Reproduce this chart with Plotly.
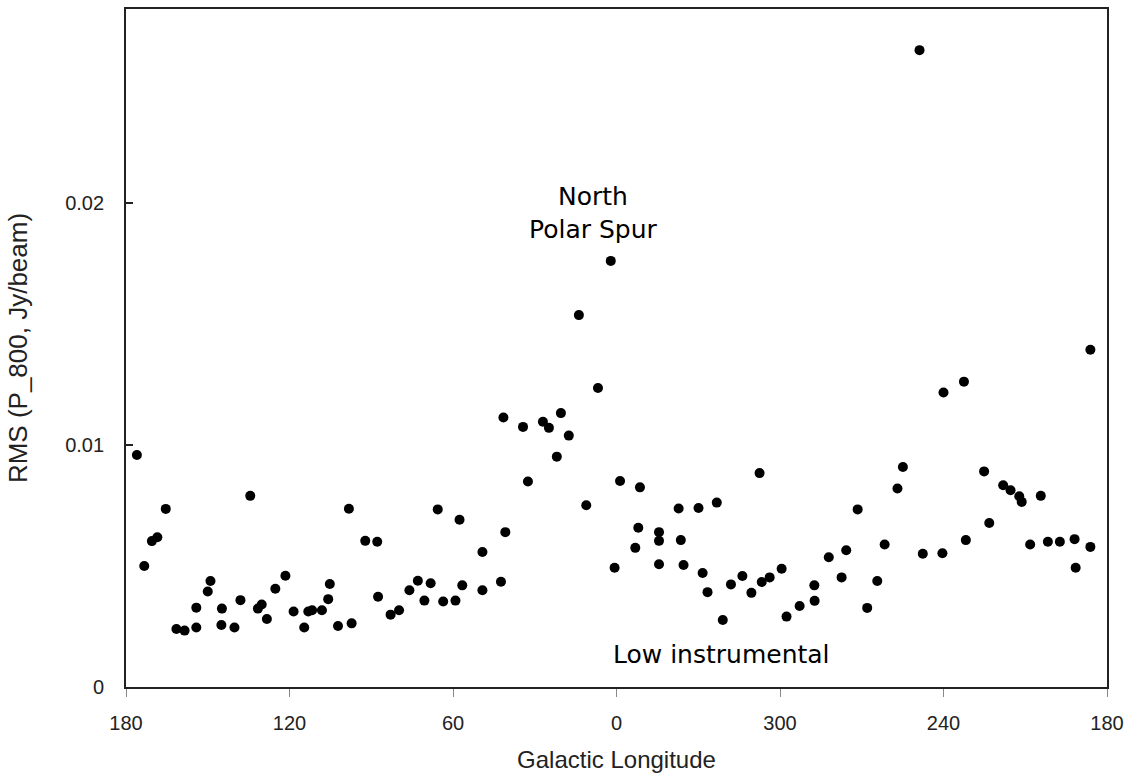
import plotly.graph_objects as go

# Galactic longitude (deg) and RMS (Jy/beam)
longitude = [176.0, 173.3, 170.5, 168.5, 165.4, 161.5, 158.5, 154.2, 154.2, 150.0,
             149.0, 144.8, 145.0, 140.2, 138.0, 134.4, 131.6, 130.2, 128.3, 125.2,
             121.5, 118.5, 114.6, 113.1, 111.7, 108.1, 105.8, 105.2, 102.2, 98.2,
             97.2, 92.2, 87.8, 87.5, 82.9, 79.8, 76.0, 72.9, 70.5, 68.2,
             65.6, 63.6, 59.1, 57.6, 56.6, 49.2, 49.2, 42.4, 41.5, 40.8,
             34.3, 32.5, 27.0, 24.8, 21.9, 20.4, 17.5, 13.8, 11.1, 6.8,
             2.1, 0.7, 358.7, 353.1, 352.0, 351.4, 344.4, 344.4, 344.4, 337.2,
             336.4, 335.4, 329.9, 328.4, 326.6, 323.2, 321.0, 318.0, 313.8, 310.5,
             307.5, 306.7, 303.8, 299.4, 297.6, 292.8, 287.4, 287.3, 282.1, 277.4,
             275.7, 271.5, 268.0, 264.3, 261.6, 256.9, 254.9, 248.8, 247.6, 240.4,
             240.0, 232.5, 231.8, 225.1, 223.2, 218.1, 215.4, 212.2, 211.3, 208.2,
             204.3, 201.7, 197.3, 191.9, 191.5, 186.1, 186.1]

rms = [0.00959, 0.00500, 0.00603, 0.00619, 0.00736, 0.00240, 0.00233, 0.00328, 0.00246, 0.00395,
       0.00438, 0.00324, 0.00256, 0.00246, 0.00359, 0.00790, 0.00324, 0.00341, 0.00281, 0.00406,
       0.00460, 0.00312, 0.00246, 0.00312, 0.00317, 0.00317, 0.00363, 0.00426, 0.00252, 0.00737,
       0.00263, 0.00604, 0.00600, 0.00373, 0.00299, 0.00317, 0.00400, 0.00439, 0.00357, 0.00429,
       0.00734, 0.00353, 0.00357, 0.00691, 0.00420, 0.00558, 0.00400, 0.00435, 0.01114, 0.00640,
       0.01075, 0.00849, 0.01096, 0.01071, 0.00952, 0.01132, 0.01039, 0.01537, 0.00751, 0.01236,
       0.01761, 0.00493, 0.00851, 0.00575, 0.00658, 0.00825, 0.00640, 0.00604, 0.00507, 0.00738,
       0.00607, 0.00504, 0.00740, 0.00471, 0.00392, 0.00762, 0.00277, 0.00424, 0.00459, 0.00389,
       0.00884, 0.00434, 0.00453, 0.00489, 0.00291, 0.00335, 0.00420, 0.00356, 0.00536, 0.00453,
       0.00565, 0.00734, 0.00327, 0.00438, 0.00589, 0.00820, 0.00909, 0.02632, 0.00551, 0.00553,
       0.01217, 0.01262, 0.00607, 0.00891, 0.00678, 0.00834, 0.00813, 0.00788, 0.00765, 0.00589,
       0.00790, 0.00600, 0.00600, 0.00611, 0.00493, 0.00579, 0.01394]

tick_positions = [0, 60, 120, 180, 240, 300, 360]
tick_labels = ["180", "120", "60", "0", "300", "240", "180"]
y_ticks = [0, 0.01, 0.02]
y_tick_labels = ["0", "0.01", "0.02"]

# Axis runs from l=180 down through 0 and wraps to 360 back to 180
xpos = [(180 - l) % 360 for l in longitude]

fig = go.Figure()
fig.add_trace(go.Scatter(
    x=xpos, y=rms, mode="markers",
    marker=dict(size=10, color="black", line=dict(width=0)),
    showlegend=False, hoverinfo="skip"))

sans = "Liberation Sans, Arial, sans-serif"
axis_font = dict(family=sans, size=20, color="#222222")

fig.update_layout(
    width=1134, height=778,
    margin=dict(l=126, r=27, t=7, b=91, pad=0),
    paper_bgcolor="white", plot_bgcolor="white",
    font=axis_font,
    xaxis=dict(
        range=[0, 360], tickmode="array", tickvals=tick_positions, ticktext=tick_labels,
        showgrid=False, zeroline=False,
        showline=True, linecolor="#222222", linewidth=1.8, mirror=True,
        ticks="outside", ticklen=8, tickwidth=1, tickcolor="#888888",
        ticklabelstandoff=9,
        tickfont=axis_font,
        title=dict(text="Galactic Longitude", font=dict(family=sans, size=24, color="#222222"), standoff=18),
    ),
    yaxis=dict(
        range=[0, 0.02802], tickmode="array", tickvals=y_ticks, ticktext=y_tick_labels,
        showgrid=False, zeroline=False,
        showline=True, linecolor="#222222", linewidth=1.8, mirror=True,
        ticks="inside", ticklen=7, tickwidth=1.5, tickcolor="#222222",
        ticklabelstandoff=16,
        tickfont=axis_font,
        title=dict(text="RMS (P_800, Jy/beam)", font=dict(family=sans, size=26, color="#222222"), standoff=30),
    ),
    annotations=[
        dict(x=171.5, y=0.01959, xref="x", yref="y", text="North<br>Polar Spur",
             showarrow=False, xanchor="center", yanchor="middle", align="center",
             font=dict(family="DejaVu Sans", size=25, color="black")),
        dict(x=178.0, y=0.00135, xref="x", yref="y", text="Low instrumental",
             showarrow=False, xanchor="left", yanchor="middle",
             font=dict(family="DejaVu Sans", size=25, color="black")),
    ],
)

fig.write_html("out.html")
